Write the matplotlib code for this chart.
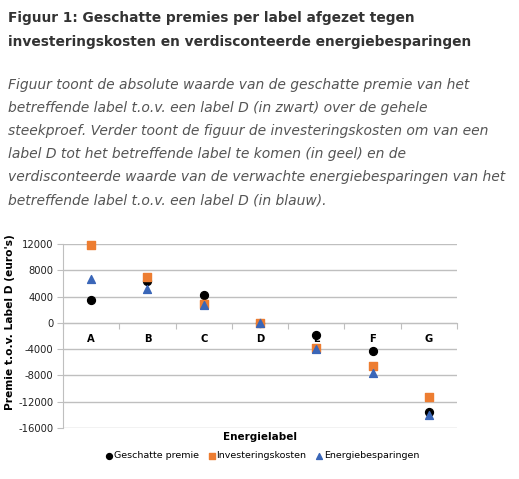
import numpy as np
import matplotlib.pyplot as plt
from matplotlib.ticker import FixedLocator

# Energielabels en waarden (euro's t.o.v. label D)
labels = ["A", "B", "C", "D", "E", "F", "G"]
geschatte_premie = [3500, 6400, 4200, 0, -1900, -4350, -13550]
investeringskosten = [11900, 6950, 2800, 0, -3750, -6500, -11300]
energiebesparingen = [6700, 5100, 2700, 0, -3950, -7650, -14050]
y_ticks = [12000, 8000, 4000, 0, -4000, -8000, -12000, -16000]

title_lines = ["Figuur 1: Geschatte premies per label afgezet tegen",
               "investeringskosten en verdisconteerde energiebesparingen"]
body_lines = ["Figuur toont de absolute waarde van de geschatte premie van het",
              "betreffende label t.o.v. een label D (in zwart) over de gehele",
              "steekproef. Verder toont de figuur de investeringskosten om van een",
              "label D tot het betreffende label te komen (in geel) en de",
              "verdisconteerde waarde van de verwachte energiebesparingen van het",
              "betreffende label t.o.v. een label D (in blauw)."]

W, H = 519, 479
fig = plt.figure(figsize=(W / 100, H / 100), dpi=100)

# tekst boven de grafiek
for i, line in enumerate(title_lines):
    fig.text(8 / W, 1 - (18 + 24 * i) / H, line, fontsize=9.9, fontweight="bold",
             color="#333333", va="center", ha="left")
for i, line in enumerate(body_lines):
    fig.text(8 / W, 1 - (85 + 23 * i) / H, line, fontsize=10.0, style="italic",
             color="#555555", va="center", ha="left")

ax = fig.add_axes([63 / W, 1 - 428 / H, (457 - 63) / W, (428 - 244) / H])
x = np.arange(len(labels)) + 0.5

ax.scatter(x, geschatte_premie, marker="o", s=32, color="black", zorder=4,
           label="Geschatte premie", clip_on=False)
ax.scatter(x, investeringskosten, marker="s", s=30, color="#ED7D31", zorder=4,
           label="Investeringskosten", clip_on=False)
ax.scatter(x, energiebesparingen, marker="^", s=32, color="#3A66B8", zorder=4,
           label="Energiebesparingen", clip_on=False)

ax.set_xlim(0, len(labels))
ax.set_ylim(-16000, 12000)
ax.set_yticks(y_ticks)
ax.set_yticklabels([str(v) for v in y_ticks], fontsize=7.2, color="#222222")
ax.yaxis.grid(True, color="#BFBFBF", linewidth=1)
ax.set_axisbelow(True)

# categorie-as op de nullijn
ax.spines["bottom"].set_position(("data", 0))
ax.spines["bottom"].set_color("#BFBFBF")
ax.spines["left"].set_color("#BFBFBF")
ax.spines["top"].set_visible(False)
ax.spines["right"].set_visible(False)
ax.xaxis.set_major_locator(FixedLocator(np.arange(len(labels) + 1)))
ax.xaxis.set_minor_locator(FixedLocator(x))
ax.set_xticklabels([])
ax.set_xticklabels(labels, minor=True, fontsize=7.2, fontweight="bold")
ax.tick_params(axis="x", which="major", length=4, color="#BFBFBF")
ax.tick_params(axis="x", which="minor", length=0, pad=8)
ax.tick_params(axis="y", length=4, color="#BFBFBF", pad=3)
for lab in ax.get_xticklabels(minor=True):
    lab.set_zorder(1)

ax.set_ylabel("Premie t.o.v. Label D (euro's)", fontsize=7.7, fontweight="bold")
ax.yaxis.set_label_coords(-0.122, 0.576)
fig.text((63 + 457) / 2 / W, 1 - 437 / H, "Energielabel", fontsize=7.5,
         fontweight="bold", ha="center", va="center")

fig.legend(loc="center", bbox_to_anchor=(262 / W, 1 - 456 / H), ncol=3, frameon=False,
           fontsize=6.8, handletextpad=0.05, columnspacing=0.9, markerscale=0.75,
           handlelength=0.9)

fig.savefig("out.png", dpi=100, facecolor="white")
